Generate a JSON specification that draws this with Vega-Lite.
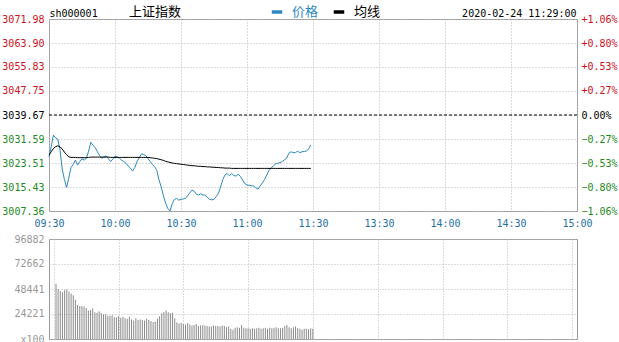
{
"$schema": "https://vega.github.io/schema/vega-lite/v6.json",
"background": "white",
"padding": {"left": 1, "top": 5, "right": 0, "bottom": 0},
"spacing": 28,
"bounds": "flush",
"config": {
  "view": {"stroke": "#999999", "strokeWidth": 1},
  "font": "DejaVu Sans Mono",
  "axis": {"labelFont": "DejaVu Sans Mono", "labelFontSize": 10, "ticks": false, "domain": false, "gridColor": "#b8b8b8", "gridDash": [1, 2], "gridWidth": 1}
},
"datasets": {"m": [
{"t":0,"价格":3025.5,"均线":3026.2,"vol":53600},
{"t":1,"价格":3029.0,"均线":3027.3,"vol":48400},
{"t":2,"价格":3032.9,"均线":3028.4,"vol":46500},
{"t":3,"价格":3032.0,"均线":3029.0,"vol":45200},
{"t":4,"价格":3031.5,"均线":3029.3,"vol":47200},
{"t":5,"价格":3027.9,"均线":3029.0,"vol":48000},
{"t":6,"价格":3021.5,"均线":3028.2,"vol":46000},
{"t":7,"价格":3018.0,"均线":3027.2,"vol":44000},
{"t":8,"价格":3015.3,"均线":3026.3,"vol":42500},
{"t":9,"价格":3018.5,"均线":3025.6,"vol":38000},
{"t":10,"价格":3022.0,"均线":3025.4,"vol":33000},
{"t":11,"价格":3023.0,"均线":3025.4,"vol":32000},
{"t":12,"价格":3024.5,"均线":3025.4,"vol":32000},
{"t":13,"价格":3022.8,"均线":3025.3,"vol":31500},
{"t":14,"价格":3024.0,"均线":3025.3,"vol":30000},
{"t":15,"价格":3024.9,"均线":3025.3,"vol":27500},
{"t":16,"价格":3024.5,"均线":3025.3,"vol":28000},
{"t":17,"价格":3025.1,"均线":3025.3,"vol":29500},
{"t":18,"价格":3027.5,"均线":3025.4,"vol":26000},
{"t":19,"价格":3030.5,"均线":3025.5,"vol":25500},
{"t":20,"价格":3029.5,"均线":3025.5,"vol":27000},
{"t":21,"价格":3028.7,"均线":3025.5,"vol":25000},
{"t":22,"价格":3027.3,"均线":3025.5,"vol":24000},
{"t":23,"价格":3026.0,"均线":3025.5,"vol":24000},
{"t":24,"价格":3025.1,"均线":3025.5,"vol":22500},
{"t":25,"价格":3025.6,"均线":3025.5,"vol":22500},
{"t":26,"价格":3025.9,"均线":3025.5,"vol":23000},
{"t":27,"价格":3025.0,"均线":3025.5,"vol":21000},
{"t":28,"价格":3024.0,"均线":3025.4,"vol":21000},
{"t":29,"价格":3024.8,"均线":3025.4,"vol":22000},
{"t":30,"价格":3025.8,"均线":3025.4,"vol":20500},
{"t":31,"价格":3025.6,"均线":3025.4,"vol":21500},
{"t":32,"价格":3025.1,"均线":3025.4,"vol":20000},
{"t":33,"价格":3024.5,"均线":3025.4,"vol":19500},
{"t":34,"价格":3024.0,"均线":3025.4,"vol":21500},
{"t":35,"价格":3023.4,"均线":3025.4,"vol":19000},
{"t":36,"价格":3022.5,"均线":3025.4,"vol":18000},
{"t":37,"价格":3021.8,"均线":3025.4,"vol":20000},
{"t":38,"价格":3020.8,"均线":3025.4,"vol":18500},
{"t":39,"价格":3022.0,"均线":3025.4,"vol":19000},
{"t":40,"价格":3024.0,"均线":3025.4,"vol":18500},
{"t":41,"价格":3025.3,"均线":3025.4,"vol":18000},
{"t":42,"价格":3026.6,"均线":3025.4,"vol":19500},
{"t":43,"价格":3026.4,"均线":3025.4,"vol":18500},
{"t":44,"价格":3026.0,"均线":3025.4,"vol":17500},
{"t":45,"价格":3025.0,"均线":3025.4,"vol":16500},
{"t":46,"价格":3024.0,"均线":3025.3,"vol":17000},
{"t":47,"价格":3023.0,"均线":3025.2,"vol":19500},
{"t":48,"价格":3022.3,"均线":3025.1,"vol":22000},
{"t":49,"价格":3021.0,"均线":3025.0,"vol":25000},
{"t":50,"价格":3017.8,"均线":3024.8,"vol":26000},
{"t":51,"价格":3015.5,"均线":3024.6,"vol":27500},
{"t":52,"价格":3012.5,"均线":3024.4,"vol":26000},
{"t":53,"价格":3010.0,"均线":3024.1,"vol":25000},
{"t":54,"价格":3008.2,"均线":3023.9,"vol":25500},
{"t":55,"价格":3007.4,"均线":3023.7,"vol":20000},
{"t":56,"价格":3009.8,"均线":3023.5,"vol":16000},
{"t":57,"价格":3011.3,"均线":3023.4,"vol":15000},
{"t":58,"价格":3011.6,"均线":3023.3,"vol":15500},
{"t":59,"价格":3011.0,"均线":3023.2,"vol":14500},
{"t":60,"价格":3011.3,"均线":3023.1,"vol":14000},
{"t":61,"价格":3011.4,"均线":3023.0,"vol":15500},
{"t":62,"价格":3011.6,"均线":3022.9,"vol":14000},
{"t":63,"价格":3012.5,"均线":3022.8,"vol":13000},
{"t":64,"价格":3013.5,"均线":3022.7,"vol":13500},
{"t":65,"价格":3014.4,"均线":3022.6,"vol":14500},
{"t":66,"价格":3014.0,"均线":3022.6,"vol":12500},
{"t":67,"价格":3013.0,"均线":3022.5,"vol":13000},
{"t":68,"价格":3012.7,"均线":3022.4,"vol":13500},
{"t":69,"价格":3013.2,"均线":3022.4,"vol":13000},
{"t":70,"价格":3012.7,"均线":3022.3,"vol":12500},
{"t":71,"价格":3012.7,"均线":3022.3,"vol":12000},
{"t":72,"价格":3012.0,"均线":3022.2,"vol":12000},
{"t":73,"价格":3011.3,"均线":3022.2,"vol":13000},
{"t":74,"价格":3011.1,"均线":3022.1,"vol":12500},
{"t":75,"价格":3011.3,"均线":3022.1,"vol":12500},
{"t":76,"价格":3012.2,"均线":3022.0,"vol":12000},
{"t":77,"价格":3013.3,"均线":3022.0,"vol":13000},
{"t":78,"价格":3015.5,"均线":3021.9,"vol":12500},
{"t":79,"价格":3018.0,"均线":3021.9,"vol":11500},
{"t":80,"价格":3019.5,"均线":3021.8,"vol":12000},
{"t":81,"价格":3020.0,"均线":3021.8,"vol":10000},
{"t":82,"价格":3019.2,"均线":3021.8,"vol":9000},
{"t":83,"价格":3020.0,"均线":3021.7,"vol":11000},
{"t":84,"价格":3019.3,"均线":3021.7,"vol":11500},
{"t":85,"价格":3019.1,"均线":3021.7,"vol":11000},
{"t":86,"价格":3019.8,"均线":3021.7,"vol":13500},
{"t":87,"价格":3019.0,"均线":3021.7,"vol":11000},
{"t":88,"价格":3017.8,"均线":3021.7,"vol":10500},
{"t":89,"价格":3016.6,"均线":3021.7,"vol":10500},
{"t":90,"价格":3016.1,"均线":3021.7,"vol":10000},
{"t":91,"价格":3016.0,"均线":3021.7,"vol":10500},
{"t":92,"价格":3015.9,"均线":3021.7,"vol":10000},
{"t":93,"价格":3015.8,"均线":3021.7,"vol":10500},
{"t":94,"价格":3015.2,"均线":3021.7,"vol":11000},
{"t":95,"价格":3014.7,"均线":3021.7,"vol":10000},
{"t":96,"价格":3015.8,"均线":3021.7,"vol":10500},
{"t":97,"价格":3016.8,"均线":3021.7,"vol":11000},
{"t":98,"价格":3018.0,"均线":3021.7,"vol":10000},
{"t":99,"价格":3019.5,"均线":3021.7,"vol":11000},
{"t":100,"价格":3021.0,"均线":3021.7,"vol":10500},
{"t":101,"价格":3021.8,"均线":3021.7,"vol":11000},
{"t":102,"价格":3022.6,"均线":3021.7,"vol":11500},
{"t":103,"价格":3023.2,"均线":3021.7,"vol":10500},
{"t":104,"价格":3023.4,"均线":3021.7,"vol":10500},
{"t":105,"价格":3023.6,"均线":3021.7,"vol":11000},
{"t":106,"价格":3024.0,"均线":3021.7,"vol":12500},
{"t":107,"价格":3024.6,"均线":3021.7,"vol":13500},
{"t":108,"价格":3025.1,"均线":3021.7,"vol":11500},
{"t":109,"价格":3026.8,"均线":3021.7,"vol":10500},
{"t":110,"价格":3027.3,"均线":3021.7,"vol":11500},
{"t":111,"价格":3027.0,"均线":3021.7,"vol":12000},
{"t":112,"价格":3027.0,"均线":3021.7,"vol":10500},
{"t":113,"价格":3027.5,"均线":3021.7,"vol":10000},
{"t":114,"价格":3027.0,"均线":3021.7,"vol":9000},
{"t":115,"价格":3027.3,"均线":3021.7,"vol":10000},
{"t":116,"价格":3027.4,"均线":3021.7,"vol":10000},
{"t":117,"价格":3027.5,"均线":3021.7,"vol":9500},
{"t":118,"价格":3028.3,"均线":3021.7,"vol":10500},
{"t":119,"价格":3029.6,"均线":3021.7,"vol":10000}
]},
"vconcat": [
{
  "width": 528, "height": 192,
  "layer": [
    {
      "data": {"name": "m"},
      "transform": [{"fold": ["价格", "均线"], "as": ["series", "value"]}],
      "mark": {"type": "line", "strokeWidth": 1},
      "encoding": {
        "x": {"field": "t", "type": "quantitative", "scale": {"domain": [0, 240], "nice": false},
          "axis": {"values": [0,30,60,90,120,150,180,210,240], "labelExpr": "['09:30','10:00','10:30','11:00','11:30','13:30','14:00','14:30','15:00'][round(datum.value/30)]", "grid": true, "labelColor": "#1f6fa6", "labelPadding": 7, "labelFlush": false, "title": null}},
        "y": {"field": "value", "type": "quantitative", "scale": {"domain": [3007.36, 3071.98], "nice": false, "zero": false},
          "axis": {"orient": "left", "values": [3007.36,3015.43,3023.51,3031.59,3039.67,3047.75,3055.83,3063.9,3071.98], "format": ".2f", "grid": true, "labelPadding": 5,
            "labelColor": {"condition": [{"test": "datum.value > 3039.7", "value": "#cc1122"}, {"test": "datum.value < 3039.6", "value": "#1d8a1d"}], "value": "#000000"},
            "title": "sh000001", "titleAngle": 0, "titleAlign": "left", "titleBaseline": "alphabetic", "titleX": 0, "titleY": -3, "titleFont": "DejaVu Sans Mono", "titleFontSize": 10, "titleFontWeight": "normal", "titleColor": "#000000"}},
        "color": {"field": "series", "type": "nominal", "sort": ["价格", "均线"], "scale": {"domain": ["价格", "均线"], "range": ["#2b88bf", "#000000"]},
          "legend": {"orient": "none", "legendX": 80, "legendY": -14, "direction": "horizontal", "title": "上证指数", "titleOrient": "left", "titleFont": "Noto Sans CJK SC", "titleFontSize": 13, "titleFontWeight": "normal", "titleColor": "#000000", "titlePadding": 88,
            "labelFont": "Noto Sans CJK SC", "labelFontSize": 13, "labelOffset": 8, "columnPadding": 7, "symbolType": "stroke", "symbolSize": 110, "symbolStrokeWidth": 3.5,
            "encode": {"labels": {"update": {"fill": {"signal": "datum.label === '价格' ? '#2b88bf' : '#000000'"}}}}}}
      }
    },
    {
      "data": {"values": [{"k": 1}]},
      "mark": {"type": "rule", "color": "#000000", "strokeDash": [3, 2], "strokeWidth": 1},
      "encoding": {
        "y": {"datum": 3039.67, "type": "quantitative", "scale": {"domain": [3007.36, 3071.98], "nice": false, "zero": false},
          "axis": {"orient": "right", "values": [3007.36,3015.43,3023.51,3031.59,3039.67,3047.75,3055.83,3063.9,3071.98], "grid": false, "labelPadding": 4,
            "labelExpr": "datum.value > 3039.7 ? '+' + format((datum.value/3039.67-1)*100, '.2f') + '%' : (datum.value < 3039.6 ? format((datum.value/3039.67-1)*100, '.2f') + '%' : '0.00%')",
            "labelColor": {"condition": [{"test": "datum.value > 3039.7", "value": "#cc1122"}, {"test": "datum.value < 3039.6", "value": "#1d8a1d"}], "value": "#000000"},
            "title": "2020-02-24 11:29:00", "titleAngle": 0, "titleAlign": "right", "titleBaseline": "alphabetic", "titleX": -1, "titleY": -3, "titleFont": "DejaVu Sans Mono", "titleFontSize": 10, "titleFontWeight": "normal", "titleColor": "#000000"}}
      }
    }
  ],
  "resolve": {"axis": {"y": "independent"}}
},
{
  "width": 528, "height": 100,
  "data": {"name": "m"},
  "mark": {"type": "bar", "width": 1, "color": "#8a8a8a", "xOffset": 2},
  "encoding": {
    "x": {"field": "t", "type": "quantitative", "scale": {"domain": [0, 240], "nice": false},
      "axis": {"values": [0,30,60,90,120,150,180,210,240], "labels": false, "grid": true, "title": null}},
    "y": {"field": "vol", "type": "quantitative", "scale": {"domain": [0, 96882], "nice": false},
      "axis": {"values": [0, 24221, 48441, 72662, 96882], "labelExpr": "datum.value == 0 ? 'x100' : format(datum.value, 'd')", "grid": true, "labelColor": "#999999", "labelPadding": 5, "title": null}}
  }
}
]
}
